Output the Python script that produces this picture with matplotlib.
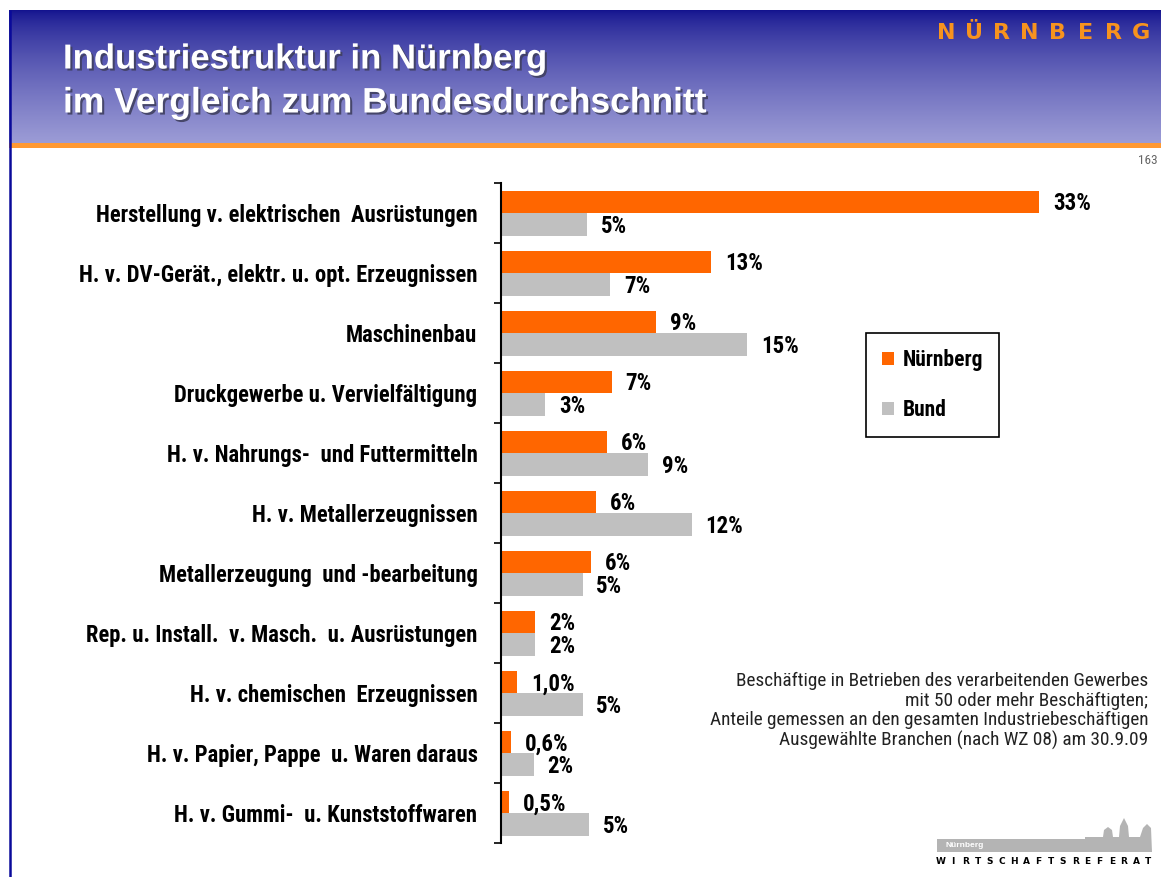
import numpy as np
import matplotlib
matplotlib.use('Agg')
import matplotlib.pyplot as plt
import matplotlib.patheffects as pe
from matplotlib.patches import Rectangle, Polygon

# Daten
branchen = [
    'Herstellung v. elektrischen  Ausrüstungen',
    'H. v. DV-Gerät., elektr. u. opt. Erzeugnissen',
    'Maschinenbau',
    'Druckgewerbe u. Vervielfältigung',
    'H. v. Nahrungs-  und Futtermitteln',
    'H. v. Metallerzeugnissen',
    'Metallerzeugung  und -bearbeitung',
    'Rep. u. Install.  v. Masch.  u. Ausrüstungen',
    'H. v. chemischen  Erzeugnissen',
    'H. v. Papier, Pappe  u. Waren daraus',
    'H. v. Gummi-  u. Kunststoffwaren',
]
nuernberg = [33.0, 12.9, 9.5, 6.8, 6.5, 5.8, 5.5, 2.1, 1.0, 0.6, 0.5]
bund = [5.3, 6.7, 15.1, 2.7, 9.0, 11.7, 5.0, 2.1, 5.0, 2.0, 5.4]
nuernberg_lbl = ['33%', '13%', '9%', '7%', '6%', '6%', '6%', '2%', '1,0%', '0,6%', '0,5%']
bund_lbl = ['5%', '7%', '15%', '3%', '9%', '12%', '5%', '2%', '5%', '2%', '5%']

ORANGE = '#FF6600'
GRAU = '#C0C0C0'
NARROW = ['Roboto Condensed', 'Liberation Sans']
W, H = 1161, 877

fig = plt.figure(figsize=(W / 100, H / 100), dpi=100)

# Hintergrund / Folienrahmen in Pixelkoordinaten
bg = fig.add_axes([0, 0, 1, 1])
bg.axis('off')

t = np.linspace(0, 1, 200) ** 0.7
c0 = np.array([0x12, 0x12, 0x8E]) / 255
c1 = np.array([0x9C, 0x9C, 0xD6]) / 255
grad = (c0[None, :] * (1 - t[:, None]) + c1[None, :] * t[:, None])[:, None, :]
bg.imshow(grad, extent=(9, W, 143, 10), aspect='auto', interpolation='bilinear')
bg.set_xlim(0, W)
bg.set_ylim(H, 0)
bg.add_patch(Rectangle((9, 143), W - 9, 5, color='#FF9933', lw=0))
bg.plot([10, 10], [10, H], color='#0A0A9A', lw=1.8, solid_capstyle='butt')

shadow = [pe.SimplePatchShadow(offset=(1.5, -1.5), shadow_rgbFace='#404060', alpha=0.9), pe.Normal()]
bg.text(63, 59, 'Industriestruktur in Nürnberg', color='white', fontsize=25,
        family='Liberation Sans', weight='bold', va='center', path_effects=shadow)
bg.text(63, 103, 'im Vergleich zum Bundesdurchschnitt', color='white', fontsize=25.5,
        family='Liberation Sans', weight='bold', va='center', path_effects=shadow)

for i, ch in enumerate('NÜRNBERG'):
    bg.text(946 + i * 27.9, 33, ch, color='#F7931E', fontsize=16, family='DejaVu Sans',
            weight='bold', ha='center', va='center')

bg.text(1158, 160, '163', color='#666666', fontsize=9.5, family=NARROW, ha='right', va='center')

# Logo unten rechts
bg.add_patch(Rectangle((937, 839), 150, 13, color='#B4B4B4', lw=0))
bg.add_patch(Polygon([(1085, 852), (1085, 837), (1103, 837), (1104, 830), (1108, 827),
                      (1112, 830), (1113, 837), (1119, 837), (1120, 826), (1124, 818),
                      (1128, 826), (1129, 837), (1140, 837), (1143, 828), (1147, 824),
                      (1151, 828), (1152, 852)], color='#B4B4B4', lw=0))
bg.text(945, 845.5, 'Nürnberg', color='white', fontsize=6, family='Liberation Sans',
        weight='bold', va='center')
for i, ch in enumerate('WIRTSCHAFTSREFERAT'):
    bg.text(941 + i * 12.2, 862, ch, color='black', fontsize=6.5, family='DejaVu Sans',
            weight='bold', ha='center', va='center')

# Anmerkung
bg.text(1148, 711, 'Beschäftige in Betrieben des verarbeitenden Gewerbes\n'
        'mit 50 oder mehr Beschäftigten;\n'
        'Anteile gemessen an den gesamten Industriebeschäftigen\n'
        'Ausgewählte Branchen (nach WZ 08) am 30.9.09',
        ha='right', va='center', multialignment='right', fontsize=13.9,
        family=NARROW, color='#222222', linespacing=1.1)

# Diagramm
ax = fig.add_axes([501 / W, 1 - 843 / H, 652 / W, 660 / H])
ax.patch.set_alpha(0)
y = np.arange(len(branchen))
h = 0.375
b1 = ax.barh(y - h / 2, nuernberg, height=h, color=ORANGE, label='Nürnberg')
b2 = ax.barh(y + h / 2, bund, height=h, color=GRAU, label='Bund')
ax.set_xlim(0, 40)
ax.set_ylim(len(branchen) - 0.5, -0.5)

for bars, lbls in ((b1, nuernberg_lbl), (b2, bund_lbl)):
    for rect, s in zip(bars, lbls):
        ax.annotate(s, (rect.get_width(), rect.get_y() + rect.get_height() / 2),
                    xytext=(10, -1.5), textcoords='offset points', va='center', ha='left',
                    fontsize=16.5, weight='bold', family=NARROW)

for sp in ('top', 'right', 'bottom'):
    ax.spines[sp].set_visible(False)
ax.spines['left'].set_linewidth(1.5)
ax.set_xticks([])
ax.set_yticks(np.arange(len(branchen) + 1) - 0.5)
ax.set_yticklabels([])
ax.set_yticks(y, minor=True)
ax.set_yticklabels(branchen, minor=True, fontsize=16.3, weight='bold', family=NARROW)
ax.tick_params(axis='y', which='major', length=5, width=1.2)
ax.tick_params(axis='y', which='minor', length=0, pad=17)

leg = fig.legend(handles=[b1, b2], loc='upper left', bbox_to_anchor=(866 / W, 1 - 333 / H),
                 prop={'family': NARROW, 'weight': 'bold', 'size': 15.5},
                 frameon=True, fancybox=False, edgecolor='black', framealpha=1,
                 handlelength=0.55, handleheight=0.55, handletextpad=0.4,
                 labelspacing=1.3, borderpad=0.75, borderaxespad=0)
leg.get_frame().set_linewidth(1.2)

fig.savefig('out.png', dpi=100)
